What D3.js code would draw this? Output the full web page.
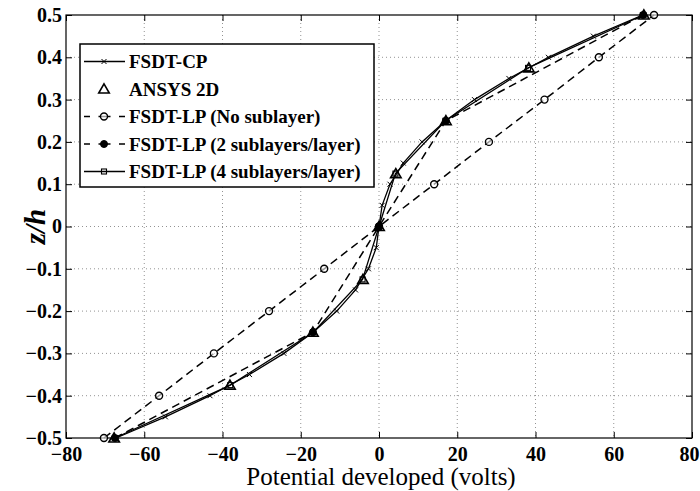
<!doctype html>
<html>
<head>
<meta charset="utf-8"/>
<title>Potential through thickness</title>
<script src="https://d3js.org/d3.v7.min.js"></script>
<style>
body { margin:0; background:#fff; }
</style>
</head>
<body>
<script>
// data
var zFine   = [-0.5,-0.45,-0.4,-0.35,-0.3,-0.25,-0.2,-0.15,-0.1,-0.05,0,0.05,0.1,0.15,0.2,0.25,0.3,0.35,0.4,0.45,0.5];
var vCP     = [-67.2,-54.6,-43.2,-33.1,-24.3,-16.8,-10.8,-6.0,-2.7,-0.7,0,0.8,2.8,6.2,11.0,17.0,24.4,33.2,43.3,54.8,67.4];
var zQuart  = [-0.5,-0.375,-0.25,-0.125,0,0.125,0.25,0.375,0.5];
var vAnsys  = [-67.7,-38.1,-16.9,-4.1,0,4.3,17.1,38.3,67.7];
var vLP4    = [-67.5,-38.0,-16.8,-4.2,0,4.2,17.0,38.1,67.6];
var zTenth  = [-0.5,-0.4,-0.3,-0.2,-0.1,0,0.1,0.2,0.3,0.4,0.5];
var vLP0    = [-70.3,-56.2,-42.2,-28.1,-14.0,0,14.1,28.1,42.3,56.2,70.3];
var zHalf   = [-0.5,-0.25,0,0.25,0.5];
var vLP2    = [-67.5,-16.9,0,17.1,67.5];
var xTicks  = [-80,-60,-40,-20,0,20,40,60,80];
var yTicks  = [-0.5,-0.4,-0.3,-0.2,-0.1,0,0.1,0.2,0.3,0.4,0.5];
var legendNames = ["FSDT-CP","ANSYS 2D","FSDT-LP (No sublayer)","FSDT-LP (2 sublayers/layer)","FSDT-LP (4 sublayers/layer)"];

var W = 700, H = 491;
var L = 66, R = 692, T = 15, B = 438;
var FONT = "Liberation Serif";

var svg = d3.select("body").append("svg")
  .attr("width", W).attr("height", H)
  .attr("font-family", FONT);

var x = d3.scaleLinear().domain([-80, 80]).range([L, R]);
var y = d3.scaleLinear().domain([-0.5, 0.5]).range([B, T]);

// grid
var grid = svg.append("g");
grid.selectAll(".gx").data(xTicks.slice(1, -1)).enter().append("line")
  .attr("x1", d => x(d)).attr("x2", d => x(d)).attr("y1", T).attr("y2", B)
  .attr("stroke", "#777").attr("stroke-width", 0.8).attr("stroke-dasharray", "1,3");
grid.selectAll(".gy").data(yTicks.slice(1, -1)).enter().append("line")
  .attr("y1", d => y(d)).attr("y2", d => y(d)).attr("x1", L).attr("x2", R)
  .attr("stroke", "#777").attr("stroke-width", 0.8).attr("stroke-dasharray", "1,3");

// axes (ticks inward, matlab style)
var fmtY = d => d === 0 ? "0" : d3.format(".1f")(d);
var axB = svg.append("g").attr("transform", "translate(0," + B + ")")
  .call(d3.axisBottom(x).tickValues(xTicks).tickSizeInner(-6).tickSizeOuter(0).tickPadding(12));
var axT = svg.append("g").attr("transform", "translate(0," + T + ")")
  .call(d3.axisTop(x).tickValues(xTicks).tickSizeInner(-6).tickSizeOuter(0).tickFormat(""));
var axL = svg.append("g").attr("transform", "translate(" + L + ",0)")
  .call(d3.axisLeft(y).tickValues(yTicks).tickSizeInner(-6).tickSizeOuter(0).tickPadding(4).tickFormat(fmtY));
var axR = svg.append("g").attr("transform", "translate(" + R + ",0)")
  .call(d3.axisRight(y).tickValues(yTicks).tickSizeInner(-6).tickSizeOuter(0).tickFormat(""));
[axB, axT, axL, axR].forEach(function(a) {
  a.attr("font-family", FONT);
  a.select(".domain").remove();
  a.selectAll("line").attr("stroke", "#000");
  a.selectAll("text").attr("font-family", FONT).attr("font-weight", "bold")
    .attr("font-size", 20).attr("fill", "#000");
});
axB.selectAll("text").attr("dy", "0.55em");
// last x label sits against the page edge, as in the original
axB.selectAll(".tick").filter(d => d === 80).select("text").attr("text-anchor", "end").attr("x", 7);

svg.append("rect").attr("x", L).attr("y", T).attr("width", R - L).attr("height", B - T)
  .attr("fill", "none").attr("stroke", "#000").attr("stroke-width", 1.2);

// series
function pts(xs, zs) { return zs.map((z, i) => [xs[i], z]); }
var line = d3.line().x(d => x(d[0])).y(d => y(d[1]));
var plot = svg.append("g");

function drawLine(data, dash, w) {
  plot.append("path").datum(data).attr("d", line)
    .attr("fill", "none").attr("stroke", "#000").attr("stroke-width", w)
    .attr("stroke-dasharray", dash);
}
// open markers are unfilled, like matlab's defaults
function marker(g, kind, cx, cy) {
  if (kind === "x") {
    g.append("path").attr("d", "M" + (cx-2.5) + "," + (cy-2.5) + "L" + (cx+2.5) + "," + (cy+2.5) +
      "M" + (cx-2.5) + "," + (cy+2.5) + "L" + (cx+2.5) + "," + (cy-2.5))
      .attr("stroke", "#000").attr("stroke-width", 1);
  } else if (kind === "tri") {
    g.append("path").attr("d", d3.symbol(d3.symbolTriangle, 48)())
      .attr("transform", "translate(" + cx + "," + (cy + 1) + ")")
      .attr("fill", "none").attr("stroke", "#000").attr("stroke-width", 1.6);
  } else if (kind === "circ") {
    g.append("circle").attr("cx", cx).attr("cy", cy).attr("r", 3.5)
      .attr("fill", "#fff").attr("fill-opacity", 0.6).attr("stroke", "#000").attr("stroke-width", 1.4);
  } else if (kind === "dot") {
    g.append("circle").attr("cx", cx).attr("cy", cy).attr("r", 3.5)
      .attr("fill", "#000").attr("stroke", "#000").attr("stroke-width", 1);
  } else if (kind === "sq") {
    g.append("rect").attr("x", cx - 2.5).attr("y", cy - 2.5).attr("width", 5).attr("height", 5)
      .attr("fill", "none").attr("stroke", "#000").attr("stroke-width", 1.1);
  }
}
function drawMarkers(data, kind) {
  data.forEach(d => marker(plot, kind, x(d[0]), y(d[1])));
}

var sLP0 = pts(vLP0, zTenth), sLP2 = pts(vLP2, zHalf), sLP4 = pts(vLP4, zQuart);
var sCP = pts(vCP, zFine), sAn = pts(vAnsys, zQuart);

drawLine(sLP0, "8,5", 1.5);
drawLine(sLP2, "8,5", 1.5);
drawLine(sLP4, null, 1.3);
drawLine(sCP, null, 1.3);
drawMarkers(sLP0, "circ");
drawMarkers(sLP4, "sq");
drawMarkers(sAn, "tri");
drawMarkers(sCP, "x");
drawMarkers(sLP2, "dot");

// legend
var lg = svg.append("g");
lg.append("rect").attr("x", 80).attr("y", 44).attr("width", 294).attr("height", 143)
  .attr("fill", "#fff").attr("stroke", "#000").attr("stroke-width", 1.5);
var legStyle = [
  {dash: null, kind: "x", line: true},
  {dash: null, kind: "tri", line: false},
  {dash: "7,6", kind: "circ", line: true},
  {dash: "7,6", kind: "dot", line: true},
  {dash: null, kind: "sq", line: true}
];
legendNames.forEach(function(name, i) {
  var cy = 61.5 + i * 27.5;
  var st = legStyle[i];
  if (st.line) {
    lg.append("line").attr("x1", 84).attr("x2", 125).attr("y1", cy).attr("y2", cy)
      .attr("stroke", "#000").attr("stroke-width", 1.4)
      .attr("stroke-dasharray", st.dash ? "6,8.5,12,8.5,6" : null);
  }
  marker(lg, st.kind, 104, cy);
  lg.append("text").attr("x", 129).attr("y", cy + 6.5).text(name)
    .attr("font-family", FONT).attr("font-size", 19).attr("font-weight", "bold").attr("fill", "#000");
});

// axis titles
svg.append("text").attr("x", (L + R) / 2 + 2).attr("y", 485).attr("text-anchor", "middle")
  .attr("font-family", FONT).attr("font-size", 25).attr("fill", "#000").text("Potential developed (volts)");
svg.append("text").attr("transform", "translate(45," + ((T + B) / 2) + ") rotate(-90)")
  .attr("text-anchor", "middle").attr("font-family", FONT).attr("font-size", 29).attr("font-weight", "bold")
  .attr("font-style", "italic").attr("fill", "#000").text("z/h");
</script>
</body>
</html>
